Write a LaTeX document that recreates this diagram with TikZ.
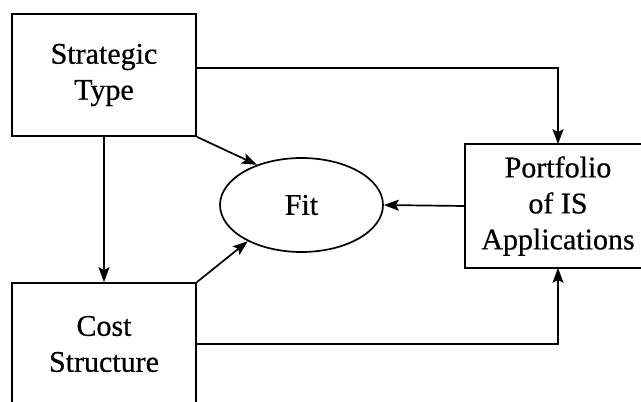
\documentclass[tikz,border=0pt]{standalone}
\usepackage{fontspec}
\setmainfont{Liberation Serif}
\newfontfamily\lblfont{Liberation Serif}[FakeBold=0.6]
\usetikzlibrary{arrows.meta,shapes.geometric,calc}
\begin{document}
\begin{tikzpicture}[x=1pt,y=-1pt,
  line width=1.7pt,
  box/.style={draw,rectangle,minimum width=184pt,minimum height=122pt,
    inner sep=0pt,align=center,font=\lblfont\fontsize{30}{36}\selectfont},
  oval/.style={draw,ellipse,minimum width=163pt,minimum height=94pt,
    inner sep=0pt,font=\lblfont\fontsize{30}{36}\selectfont},
  arr/.style={-{Stealth[length=15pt,width=11pt,inset=3pt]}}]
  \useasboundingbox[fill=white] (0,0) rectangle (641,402);
  % boxes at the right and bottom edges run off the page
  \clip (0,0) rectangle (641,402);

  % concepts
  \node[box] (strat) at (104,75) {Strategic\\Type};
  \node[box] (cost) at (104,344) {Cost\\Structure};
  \node[box,draw=none] (port) at (558,206) {Portfolio\\of IS\\Applications};
  \node[oval] (fit) at (301.5,205) {Fit};
  % the portfolio box is open where it leaves the page
  \draw (port.north east) -- (port.north west) -- (port.south west) -- (port.south east);

  % relations
  \coordinate (sOut) at ([yshift=7pt]strat.east);
  \draw[arr] (sOut) -| (port.north);
  \draw[arr] (strat.south) -- (cost.north);
  \draw[arr] (strat.south east) -- (fit.138);
  \draw[arr] (cost.north east) -- (fit.214);
  \draw[arr] (port.west) -- (fit.east);
  \draw[arr] (cost.east) -| (port.south);
\end{tikzpicture}
\end{document}
